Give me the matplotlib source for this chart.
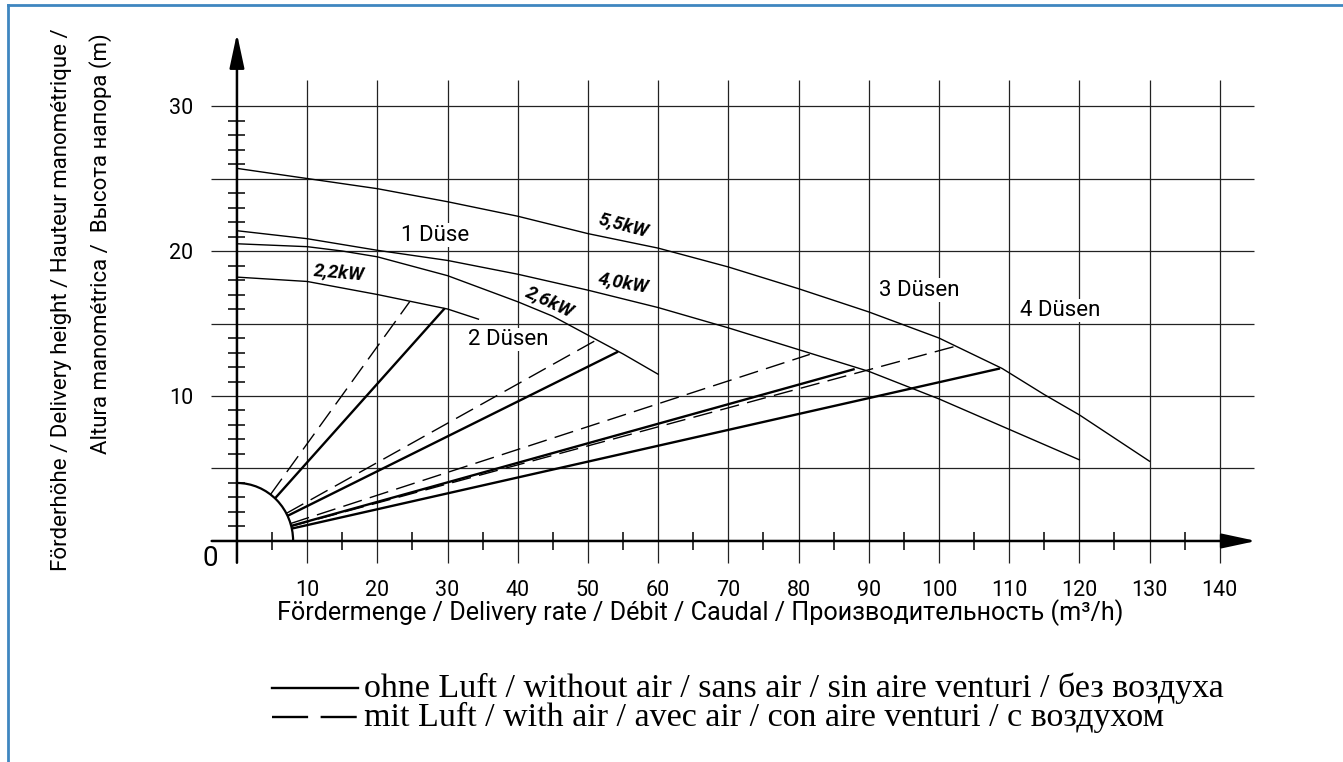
import numpy as np
import matplotlib
matplotlib.use("Agg")
import matplotlib.pyplot as plt
from matplotlib.patches import Arc
from matplotlib.lines import Line2D

# pump curves: delivery rate (m3/h) vs delivery height (m)
q_55 = [0, 10, 20, 30, 40, 50, 60, 70, 80, 90, 100, 109, 115, 120, 130]
h_55 = [25.7, 25.0, 24.3, 23.4, 22.4, 21.2, 20.2, 18.9, 17.4, 15.8, 14.0, 11.9, 10.1, 8.7, 5.5]
q_40 = [0, 10, 20, 30, 40, 50, 60, 70, 80, 90, 100, 110, 120]
h_40 = [21.4, 20.85, 20.05, 19.35, 18.4, 17.3, 16.1, 14.7, 13.2, 11.7, 9.8, 7.7, 5.6]
q_26 = [0, 10, 15, 20, 30, 40, 45, 50, 55, 60]
h_26 = [20.5, 20.3, 20.0, 19.6, 18.3, 16.5, 15.5, 14.2, 12.9, 11.5]
q_22 = [0, 10, 20, 30, 34.4]
h_22 = [18.2, 17.9, 17.0, 16.0, 15.3]
curves = [(q_55, h_55), (q_40, h_40), (q_26, h_26), (q_22, h_22)]

# operating points for 1..4 nozzles
op_q_dry = [29.6, 54.3, 88.0, 108.7]
op_h_dry = [16.05, 13.06, 11.86, 11.9]
op_q_air = [24.6, 51.2, 81.6, 102.5]
op_h_air = [16.5, 13.86, 12.87, 13.45]

kw_labels = ["5,5kW", "4,0kW", "2,6kW", "2,2kW"]
kw_pos = [(55.0, 21.8), (55.0, 17.8), (44.5, 16.5), (14.5, 18.5)]
kw_rot = [-15, -10, -25, -5]

nozzle_labels = ["1 Düse", "2 Düsen", "3 Düsen", "4 Düsen"]
nozzle_pos = [(28.2, 21.1), (38.6, 13.9), (97.2, 17.3), (117.3, 15.9)]

x_ticks = list(range(10, 150, 10))
y_ticks = [10, 20, 30]

xlabel = "Fördermenge / Delivery rate / Débit / Caudal / Производительность (m³/h)"
ylabel1 = "Förderhöhe / Delivery height / Hauteur manométrique /"
ylabel2 = "Altura manométrica /  Высота напора (m)"
legend_dry = "ohne Luft / without air / sans air / sin aire venturi / без воздуха"
legend_air = "mit Luft / with air / avec air / con aire venturi / с воздухом"

SANS = ["Roboto", "DejaVu Sans"]
SERIF = ["Liberation Serif", "DejaVu Serif"]
plt.rcParams["lines.scale_dashes"] = False

W, H = 1343, 762
fig = plt.figure(figsize=(W / 100, H / 100), dpi=100)
ax = fig.add_axes([0.1503, 0.252, 0.7945, 0.723])
ax.set_xlim(-5, 147)
ax.set_ylim(-2, 36)
for s in ax.spines.values():
    s.set_visible(False)

# grid
ax.vlines(x_ticks, -1.5, 31.8, color="#222222", lw=0.9)
ax.hlines(np.arange(5, 31, 5), -3.7, 144.9, color="#222222", lw=0.9)

# axes with arrows
arrow = dict(arrowstyle="-|>,head_length=2.1,head_width=0.45", color="k",
             lw=1.8, mutation_scale=10, shrinkA=0, shrinkB=0)
ax.annotate("", xy=(145.2, 0), xytext=(-3.6, 0), arrowprops=arrow)
ax.annotate("", xy=(0, 35.0), xytext=(0, -1.5), arrowprops=arrow)

# small ticks
ym = [v for v in range(1, 30) if v % 5]
ax.hlines(ym, -1.3, 1.2, color="k", lw=1.1)
ax.vlines(np.arange(5, 140, 10), -0.63, 0.63, color="k", lw=1.1)

# quarter circle near the origin
ARC_Q, ARC_H = 8.0, 4.0
ax.add_patch(Arc((0, 0), 2 * ARC_Q, 2 * ARC_H, theta1=0, theta2=90, lw=1.6, color="k"))

for q, h in curves:
    ax.plot(q, h, color="k", lw=1.0)


def ray(q, h):
    t = 1.0 / np.sqrt((q / ARC_Q) ** 2 + (h / ARC_H) ** 2)
    return [q * t, q], [h * t, h]


for q, h in zip(op_q_dry, op_h_dry):
    ax.plot(*ray(q, h), color="k", lw=1.7, solid_capstyle="butt")
for q, h in zip(op_q_air, op_h_air):
    ax.plot(*ray(q, h), color="k", lw=1.0, dashes=(14, 6))

for txt, (x, y), r in zip(kw_labels, kw_pos, kw_rot):
    ax.text(x, y, txt, rotation=r, rotation_mode="anchor", ha="center", va="center",
            family=SANS, style="italic", weight="bold", fontsize=13.5)

for txt, (x, y) in zip(nozzle_labels, nozzle_pos):
    ax.text(x, y, txt, ha="center", va="center", family=SANS, fontsize=16,
            bbox=dict(facecolor="white", edgecolor="none", pad=1))

ax.set_xticks(x_ticks)
ax.set_xticklabels([str(v) for v in x_ticks], family=SANS)
ax.set_yticks(y_ticks)
ax.set_yticklabels([str(v) for v in y_ticks], family=SANS)
ax.tick_params(length=0, labelsize=15.5)
ax.tick_params(axis="x", pad=7)
ax.tick_params(axis="y", pad=6)
ax.text(-3.85, -1.2, "0", ha="center", va="center", family=SANS, fontsize=20)

renderer = fig.canvas.get_renderer()


def fit(t, length, vertical=False):
    bb = t.get_window_extent(renderer)
    cur = bb.height if vertical else bb.width
    t.set_fontsize(t.get_fontsize() * length / cur)


xl = fig.text(700 / W, 1 - 613 / H, xlabel, ha="center", va="center", family=SANS, fontsize=18)
fit(xl, 845)
yl1 = fig.text(62 / W, 1 - 28 / H, ylabel1, rotation=90, ha="center", va="top",
               family=SANS, fontsize=18)
fit(yl1, 542, vertical=True)
yl2 = fig.text(101 / W, 1 - 33 / H, ylabel2, rotation=90, ha="center", va="top",
               family=SANS, fontsize=yl1.get_fontsize())

# legend
for y, dash in [(688, None), (717, (26, 9))]:
    ln = Line2D([272 / W, 358 / W], [1 - y / H, 1 - y / H], transform=fig.transFigure,
                color="k", lw=1.7)
    if dash:
        ln.set_dashes(dash)
    fig.add_artist(ln)
l1 = fig.text(364 / W, 1 - 688 / H, legend_dry, ha="left", va="center", family=SERIF, fontsize=18)
fit(l1, 1226 - 364)
l2 = fig.text(364 / W, 1 - 717 / H, legend_air, ha="left", va="center", family=SERIF,
              fontsize=l1.get_fontsize())

# frame lines
blue = "#3f86c0"
fig.add_artist(Line2D([8 / W, 8 / W], [0, 1 - 5 / H], transform=fig.transFigure, color=blue, lw=2))
fig.add_artist(Line2D([8 / W, 1], [1 - 5 / H, 1 - 5 / H], transform=fig.transFigure, color=blue, lw=2))

fig.savefig("out.png", dpi=100)
